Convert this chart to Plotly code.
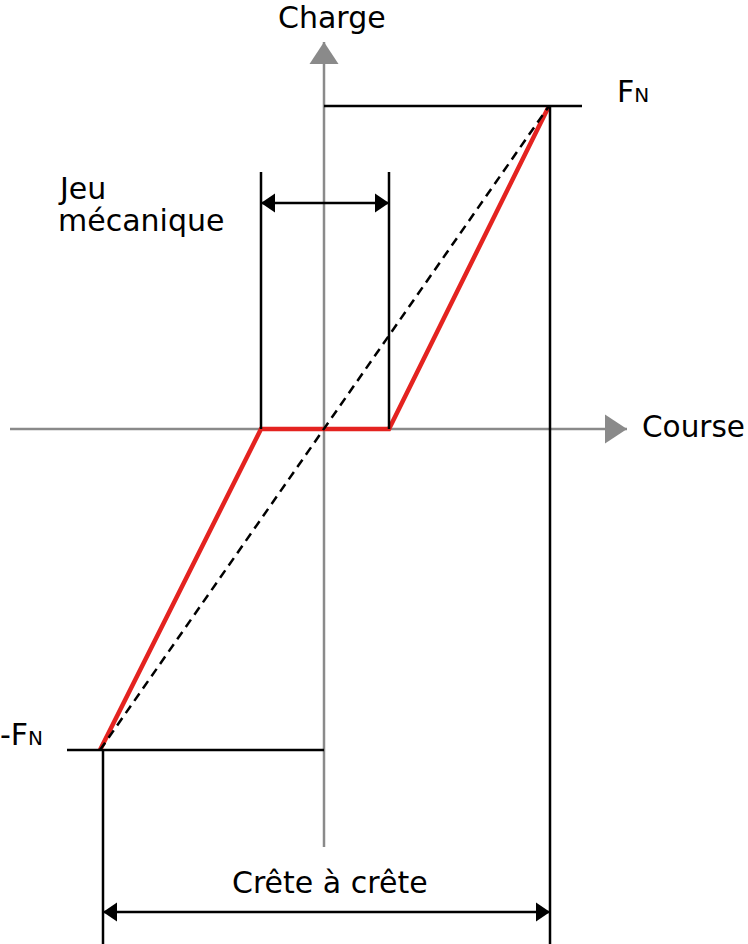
import plotly.graph_objects as go

# ---- data (course in mm-like units, charge normalised to F_N) ----
FN = 1.0
red_course = [-2.24, -0.63, 0.65, 2.25]
red_charge = [-0.994, 0.0, 0.0, 1.0]
dash_course = [-2.24, 2.25]
dash_charge = [-0.994, 1.0]
jeu_course = [-0.63, 0.65]
jeu_top = 0.796
jeu_arrow_level = 0.70
crete_course = [-2.21, 2.26]
crete_arrow_level = -1.495
fn_line_course = [0.0, 2.58]
mfn_line_course = [-2.57, 0.0]
mfn_level = -0.994
x_axis_extent = [-3.14, 3.03]
y_axis_extent = [-1.294, 1.198]

W, H = 748, 944
XR = [-3.24, 4.24]
YR = [-(H - 429) / 323.0, 429 / 323.0]

GREY = "#8a8a8a"
RED = "#e42320"
BLACK = "#000000"
FONT = "DejaVu Sans"

fig = go.Figure()

def line(xs, ys, color, width, dash=None):
    fig.add_trace(go.Scatter(x=xs, y=ys, mode="lines",
                             line=dict(color=color, width=width, dash=dash),
                             hoverinfo="skip"))

# axes (grey)
line(x_axis_extent, [0, 0], GREY, 2.5)
line([0, 0], y_axis_extent, GREY, 2.5)

# red characteristic
line(red_course, red_charge, RED, 4.5)

# black reference lines
line(fn_line_course, [FN, FN], BLACK, 2.5)
line(mfn_line_course, [mfn_level, mfn_level], BLACK, 2.5)
line([crete_course[1], crete_course[1]], [FN, YR[0]], BLACK, 2.5)
line([crete_course[0], crete_course[0]], [mfn_level, YR[0]], BLACK, 2.5)
for xj in jeu_course:
    line([xj, xj], [0, jeu_top], BLACK, 2.5)
# dimension arrows shafts
line(jeu_course, [jeu_arrow_level] * 2, BLACK, 2.5)
line(crete_course, [crete_arrow_level] * 2, BLACK, 2.5)

# dashed linear reference
line(dash_course, dash_charge, BLACK, 2.5, dash="9px,6px")

shapes = []

def head(xa, ya, path, color):
    shapes.append(dict(type="path", xref="x", yref="y", xsizemode="pixel",
                       ysizemode="pixel", xanchor=xa, yanchor=ya, path=path,
                       fillcolor=color, line=dict(width=0), layer="above"))

# axis arrowheads
head(x_axis_extent[1], 0, "M0,0 L-22,14.5 L-22,-14.5 Z", GREY)
head(0, y_axis_extent[1], "M0,0 L-14.5,-22 L14.5,-22 Z", GREY)
# dimension arrowheads
RIGHT = "M0,0 L-14,9.5 L-14,-9.5 Z"
LEFT = "M0,0 L14,9.5 L14,-9.5 Z"
head(jeu_course[0], jeu_arrow_level, LEFT, BLACK)
head(jeu_course[1], jeu_arrow_level, RIGHT, BLACK)
head(crete_course[0], crete_arrow_level, LEFT, BLACK)
head(crete_course[1], crete_arrow_level, RIGHT, BLACK)

def txt(x, y, s, xanchor="center", size=30, yanchor="middle"):
    return dict(x=x, y=y, xref="x", yref="y", text=s, showarrow=False,
                xanchor=xanchor, yanchor=yanchor, borderpad=0, borderwidth=0,
                font=dict(family=FONT, size=size, color=BLACK))

annotations = [
    txt(0.08, YR[1], "Charge", yanchor="top"),
    txt(2.93, 1.046, "F<span style='font-size:20px'>N</span>", "left"),
    txt(XR[0], -0.947, "-F<span style='font-size:20px'>N</span>", "left"),
    txt(-2.66, 0.744, "Jeu", "left"),
    txt(-2.66, 0.647, "mécanique", "left"),
    txt(3.18, 0.006, "Course", "left", 29.5),
    txt(0.06, -1.4025, "Crête à crête"),
]

fig.update_layout(
    width=W, height=H, autosize=False,
    margin=dict(l=0, r=0, t=0, b=0, pad=0),
    paper_bgcolor="white", plot_bgcolor="white",
    showlegend=False,
    xaxis=dict(range=XR, visible=False, fixedrange=True),
    yaxis=dict(range=YR, visible=False, fixedrange=True),
    shapes=shapes, annotations=annotations,
)

fig.write_html(
    "out.html",
    config={"displayModeBar": False},
    post_script="document.body.style.margin='0';document.body.style.overflow='hidden';",
)
